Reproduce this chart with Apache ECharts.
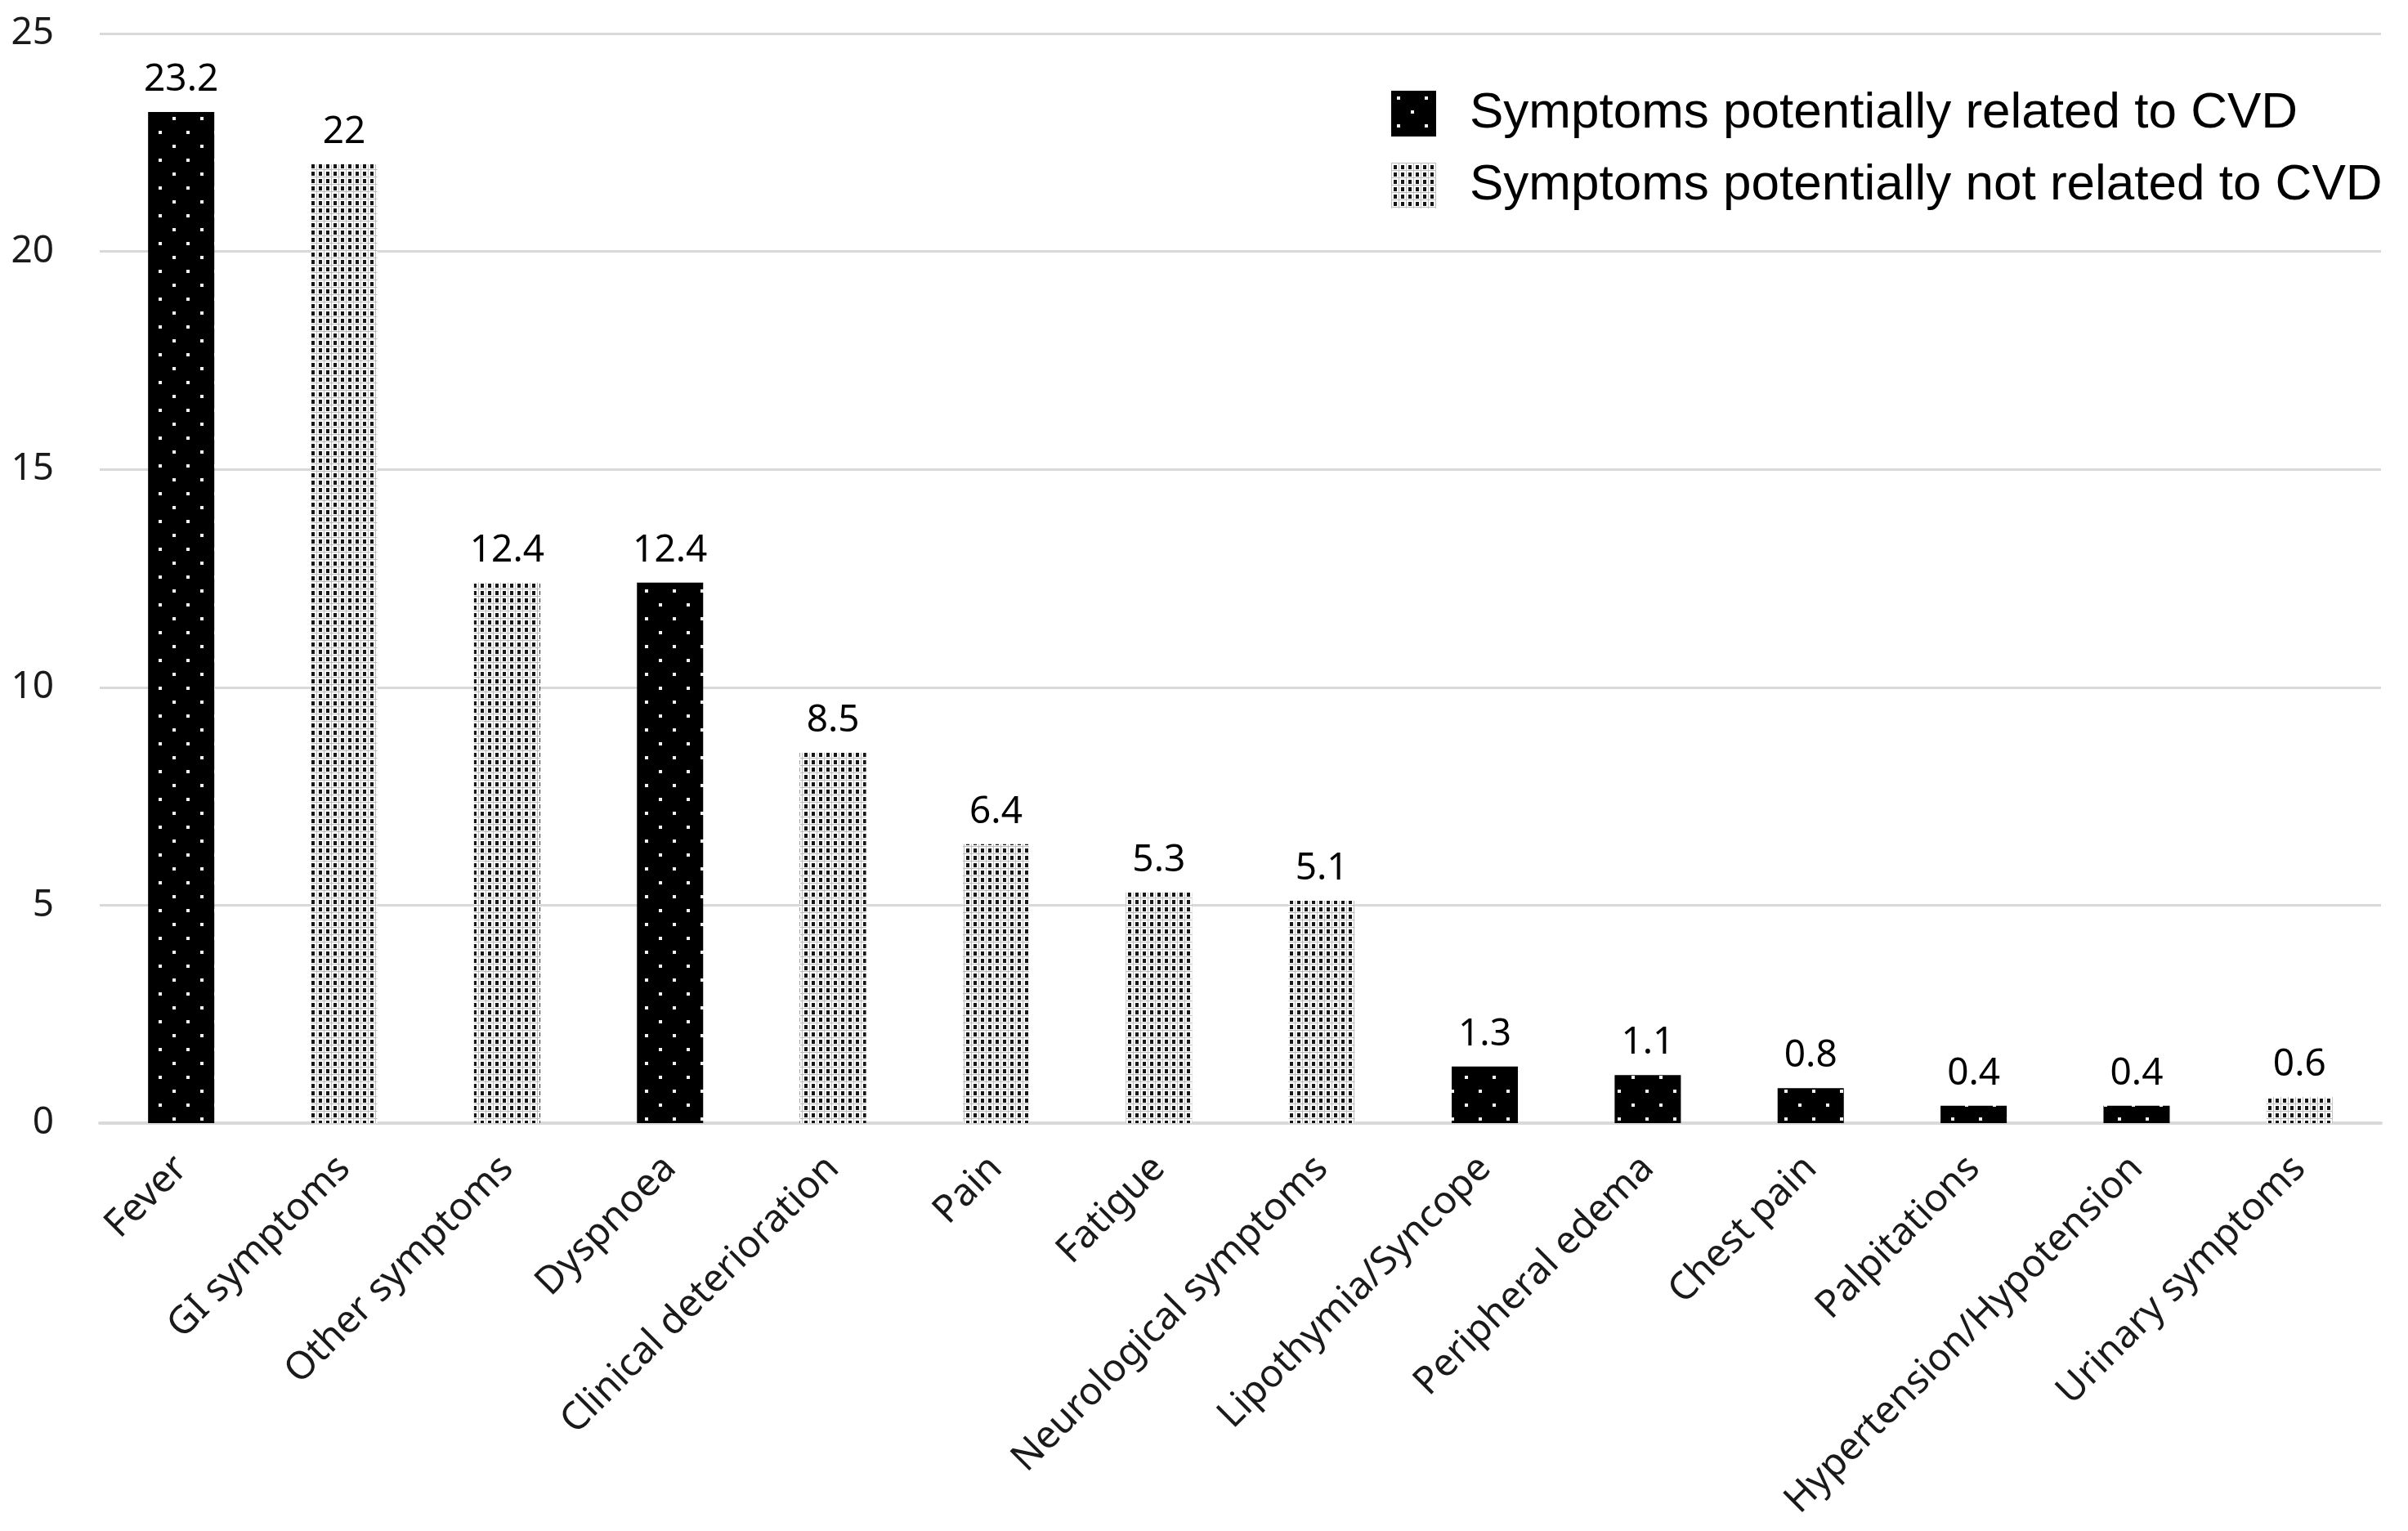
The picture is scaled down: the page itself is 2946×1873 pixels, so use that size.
<!DOCTYPE html>
<html>
<head>
<meta charset="utf-8">
<script src="https://cdn.jsdelivr.net/npm/echarts@6/dist/echarts.min.js"></script>
<style>
html,body{margin:0;padding:0;background:#fff;}
#chart{width:2946px;height:1873px;}
</style>
</head>
<body>
<div id="chart"></div>
<script>
const categories = ["Fever","GI symptoms","Other symptoms","Dyspnoea","Clinical deterioration","Pain","Fatigue","Neurological symptoms","Lipothymia/Syncope","Peripheral edema","Chest pain","Palpitations","Hypertension/Hypotension","Urinary symptoms"];
const relatedValues = [23.2, null, null, 12.4, null, null, null, null, 1.3, 1.1, 0.8, 0.4, 0.4, null];
const notRelatedValues = [null, 22, 12.4, null, 8.5, 6.4, 5.3, 5.1, null, null, null, null, null, 0.6];
const seriesNames = ["Symptoms potentially related to CVD", "Symptoms potentially not related to CVD"];
const yTicks = [0, 5, 10, 15, 20, 25];

function blackPattern(){
  const c = document.createElement('canvas');
  c.width = 34; c.height = 34;
  const g = c.getContext('2d');
  g.fillStyle = '#000'; g.fillRect(0,0,34,34);
  g.fillStyle = '#f2f2f2';
  g.fillRect(7,7,4,4);
  g.fillRect(24,24,4,4);
  return c;
}
function lightPattern(){
  const c = document.createElement('canvas');
  c.width = 9; c.height = 9;
  const g = c.getContext('2d');
  g.fillStyle = '#fff'; g.fillRect(0,0,9,9);
  g.fillStyle = '#bcbcbc'; g.fillRect(0,0,9,1); g.fillRect(0,0,1,9);
  g.fillStyle = '#151515'; g.fillRect(3,3,4,5);
  return c;
}

const chart = echarts.init(document.getElementById('chart'), null, {renderer:'canvas'});
const labelFont = '"Noto Sans", sans-serif';
chart.setOption({
  animation: false,
  backgroundColor: '#fff',
  grid: {left: 122, right: 33, top: 41, bottom: 499, containLabel: false},
  legend: {
    orient: 'vertical',
    left: 1697, top: 103,
    icon: 'rect',
    itemWidth: 55, itemHeight: 56, itemGap: 26,
    textStyle: {fontFamily: '"Liberation Sans", Arial, sans-serif', fontSize: 62, color: '#000', padding: [0,0,0,36]},
    data: seriesNames
  },
  xAxis: {
    type: 'category',
    data: categories,
    axisLine: {lineStyle: {color: '#d9d9d9', width: 4}},
    axisTick: {show: false},
    axisLabel: {interval: 0, rotate: 45, margin: 48, fontFamily: labelFont, fontSize: 47, color: '#1a1a1a'}
  },
  yAxis: {
    type: 'value',
    min: yTicks[0], max: yTicks[yTicks.length-1], interval: 5,
    axisLine: {show: false},
    axisTick: {show: false},
    splitLine: {lineStyle: {color: '#d9d9d9', width: 3}},
    axisLabel: {fontFamily: labelFont, fontSize: 46, color: '#1a1a1a', margin: 56}
  },
  series: [
    {
      name: seriesNames[0], type: 'bar', stack: 'all', data: relatedValues,
      barWidth: 81,
      itemStyle: {color: {image: blackPattern(), repeat: 'repeat'}},
      label: {show: true, position: 'top', distance: 16, fontFamily: labelFont, fontSize: 46, color: '#000'}
    },
    {
      name: seriesNames[1], type: 'bar', stack: 'all', data: notRelatedValues,
      barWidth: 81,
      itemStyle: {color: {image: lightPattern(), repeat: 'repeat'}},
      label: {show: true, position: 'top', distance: 16, fontFamily: labelFont, fontSize: 46, color: '#000'}
    }
  ]
});
</script>
</body>
</html>
